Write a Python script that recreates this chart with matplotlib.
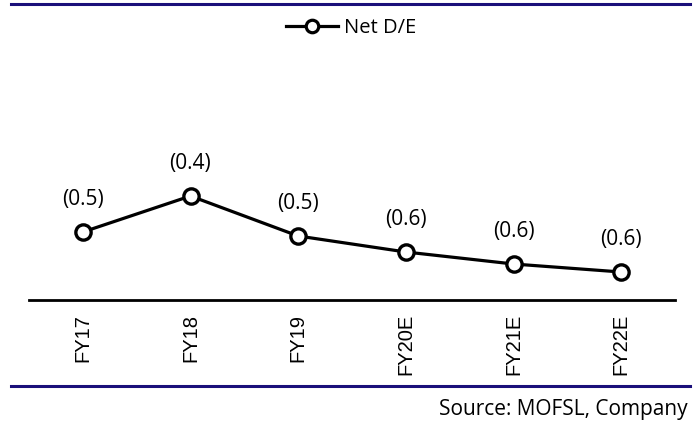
import matplotlib.pyplot as plt
from matplotlib.lines import Line2D

years = ['FY17', 'FY18', 'FY19', 'FY20E', 'FY21E', 'FY22E']
net_de = [-0.51, -0.42, -0.52, -0.56, -0.59, -0.61]

navy = '#1a0f7a'
label_font = 'Open Sans'

fig = plt.figure(figsize=(6.98, 4.21), dpi=100)
ax = fig.add_axes([29 / 698, 121 / 421, 646 / 698, 240 / 421])

x = range(len(years))
ax.plot(x, net_de, color='black', linewidth=2.3, marker='o', markersize=11,
        markerfacecolor='white', markeredgecolor='black', markeredgewidth=2.4,
        zorder=3, clip_on=False)

# bracketed labels for negative values
for i, v in enumerate(net_de):
    ax.annotate('({:.1f})'.format(abs(v)), (i, v), xytext=(0, 16),
                textcoords='offset points', ha='center', va='bottom',
                fontsize=15, family=label_font)

ax.set_xlim(-0.5, len(years) - 0.5)
ax.set_ylim(-0.68, -0.08)
ax.set_xticks(list(x))
ax.set_xticklabels(years, rotation=90, fontsize=14.5, family='Liberation Sans')
ax.tick_params(axis='x', length=0, pad=10)
ax.set_yticks([])
for side in ['left', 'right', 'top']:
    ax.spines[side].set_visible(False)
ax.spines['bottom'].set_linewidth(2)

# legend
handle = Line2D([], [], color='black', linewidth=2.3, marker='o', markersize=9,
                markerfacecolor='white', markeredgewidth=2.3)
fig.legend([handle], ['Net D/E'], loc='center', bbox_to_anchor=(351 / 698, 1 - 28 / 421),
           frameon=False, prop={'family': label_font, 'size': 14.5},
           handlelength=2.6, handletextpad=0.3)

# top and bottom rules
fig.add_artist(Line2D([11 / 698, 690 / 698], [1 - 4 / 421] * 2, color=navy, linewidth=2.2))
fig.add_artist(Line2D([11 / 698, 690 / 698], [1 - 386 / 421] * 2, color=navy, linewidth=2.2))

fig.text(688 / 698, 1 - 409 / 421, 'Source: MOFSL, Company', ha='right', va='center',
         fontsize=15, family=label_font)

fig.savefig('out.png', dpi=100)
